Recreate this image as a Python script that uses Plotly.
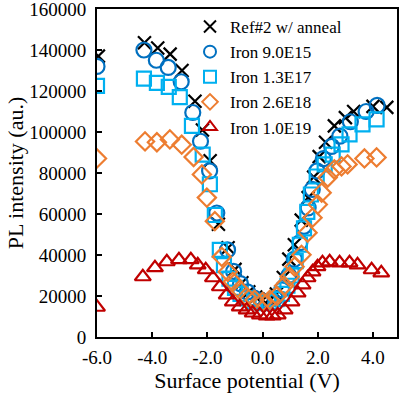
import plotly.graph_objects as go

# Ref#2 w/ anneal
ref_x = [-5.95, -4.28, -3.8, -3.35, -2.92, -2.45, -2.18, -1.9, -1.6, -1.25, -1.0, -0.75, -0.5,
         -0.25, 0.0, 0.25, 0.5, 0.75, 0.95, 1.15, 1.4, 1.65, 1.85, 2.05, 2.28, 2.6, 3.0, 3.3, 4.0, 4.5]
ref_y = [137000, 143500, 141000, 138000, 130000, 115000, 101000, 86000, 55000, 43500, 33000, 26500,
         22000, 19500, 18000, 18500, 21000, 29000, 38000, 45000, 57000, 68000, 78000, 88000, 95000,
         103000, 107000, 110000, 112500, 112000]

# Iron 9.0E15
fe1_x = [-6.0, -4.3, -3.85, -3.42, -2.95, -2.53, -2.25, -1.92, -1.66, -1.27, -1.05, -0.8, -0.55, -0.3,
         -0.05, 0.2, 0.45, 0.7, 0.95, 1.15, 1.35, 1.5, 1.65, 1.8, 1.97, 2.2, 2.5, 2.8, 3.18, 3.75, 4.15]
fe1_y = [132000, 140000, 135000, 131500, 124500, 109500, 95500, 81000, 60500, 42500, 32000, 26000,
         22000, 19000, 17500, 17500, 19000, 23000, 30000, 38000, 46000, 54000, 63000, 72000, 81000,
         87000, 93000, 98000, 105000, 110000, 113000]

# Iron 1.3E17
fe2_x = [-6.0, -4.3, -3.83, -3.4, -3.0, -2.56, -2.17, -1.91, -1.73, -1.55, -1.4, -1.2, -1.0, -0.8,
         -0.55, -0.3, 0.0, 0.25, 0.5, 0.7, 0.9, 1.05, 1.2, 1.35, 1.5, 1.62, 1.75, 1.96, 2.25, 2.54,
         2.86, 3.15, 3.62, 4.13]
fe2_y = [122500, 126000, 124000, 122000, 117000, 103000, 89000, 74500, 59500, 42500, 35000, 28500,
         24000, 21000, 18800, 17300, 16500, 17000, 18500, 21000, 25000, 30000, 37000, 45000, 53000,
         61000, 69500, 78300, 84200, 89000, 94000, 98800, 103700, 106200]

# Iron 2.6E18
fe3_x = [-6.0, -4.26, -3.83, -3.36, -2.93, -2.5, -2.2, -2.02, -1.73, -1.48, -1.26, -1.08, -0.83,
         -0.58, -0.29, 0.0, 0.26, 0.52, 0.78, 0.98, 1.16, 1.41, 1.63, 1.81, 2.0, 2.14, 2.36, 2.6,
         2.86, 3.08, 3.69, 4.13]
fe3_y = [87100, 95400, 95000, 96400, 93800, 87800, 79300, 68000, 56500, 39100, 31800, 26900, 23000,
         19600, 18100, 17100, 18100, 20000, 25000, 29400, 34300, 40100, 50900, 58200, 64600, 70400,
         77800, 81700, 83200, 84200, 87100, 87600]

# Iron 1.0E19
fe4_x = [-6.0, -4.34, -3.9, -3.47, -3.03, -2.6, -2.35, -2.06, -1.8, -1.55, -1.3, -1.08, -0.83, -0.58,
         -0.36, -0.1, 0.15, 0.37, 0.55, 0.8, 1.05, 1.27, 1.45, 1.63, 1.81, 1.99, 2.17, 2.43, 2.79,
         3.15, 3.44, 3.95, 4.3]
fe4_y = [14500, 29400, 33800, 36700, 37700, 37700, 35200, 32800, 28900, 24500, 20500, 17100, 14700,
         13200, 11700, 10800, 10300, 10300, 10800, 13200, 17100, 21500, 25400, 28900, 31800, 34300,
         36200, 36700, 36200, 36200, 35200, 32800, 31300]

x_ticks = [-6.0, -4.0, -2.0, 0.0, 2.0, 4.0]
y_ticks = [0, 20000, 40000, 60000, 80000, 100000, 120000, 140000, 160000]

series = [
    ("Ref#2 w/ anneal", ref_x, ref_y, "x-thin-open", "#000000", 13),
    ("Iron 9.0E15", fe1_x, fe1_y, "circle-open", "#0070C0", 15),
    ("Iron 1.3E17", fe2_x, fe2_y, "square-open", "#00B0F0", 14),
    ("Iron 2.6E18", fe3_x, fe3_y, "diamond-open", "#ED7D31", 14),
    ("Iron 1.0E19", fe4_x, fe4_y, "triangle-up-open", "#C00000", 14),
]

fig = go.Figure()
for name, xs, ys, sym, col, sz in series:
    fig.add_trace(go.Scatter(
        x=xs, y=ys, mode="markers", name=name,
        marker=dict(symbol=sym, size=sz, color=col, line=dict(color=col, width=2.2)),
    ))

font_family = "Liberation Serif, Times New Roman, serif"
fig.update_layout(
    template="none",
    width=405, height=394,
    margin=dict(l=97, r=8, t=9, b=57),
    paper_bgcolor="white", plot_bgcolor="white",
    font=dict(family=font_family, color="black", size=19),
    showlegend=True,
    legend=dict(x=0.31, y=1.0, xanchor="left", yanchor="top",
                bgcolor="rgba(0,0,0,0)", font=dict(size=17, family=font_family),
                tracegroupgap=0, itemwidth=30, itemsizing="constant"),
    xaxis=dict(range=[-6.0, 4.87], tickvals=x_ticks, ticktext=[f"{v:.1f}" for v in x_ticks],
               automargin=False,
               showgrid=False, zeroline=False, showline=True, linecolor="black", linewidth=2,
               mirror=True, ticks="inside", ticklen=5, tickwidth=1.5, tickcolor="black",
               tickfont=dict(size=19), ticklabelstandoff=2, ticklabeloverflow="allow",
               title=dict(text="Surface potential (V)", font=dict(size=22), standoff=2)),
    yaxis=dict(range=[0, 160000], tickvals=y_ticks, ticktext=[str(v) for v in y_ticks],
               automargin=False,
               showgrid=False, zeroline=False, showline=True, linecolor="black", linewidth=2,
               mirror=True, ticks="inside", ticklen=5, tickwidth=1.5, tickcolor="black",
               tickfont=dict(size=19), ticklabelstandoff=5, ticklabeloverflow="allow",
               title=dict(text="PL intensity (au.)", font=dict(size=22), standoff=0)),
)

fig.write_html("out.html", config={"displayModeBar": False},
               post_script="document.body.style.margin='0';")
